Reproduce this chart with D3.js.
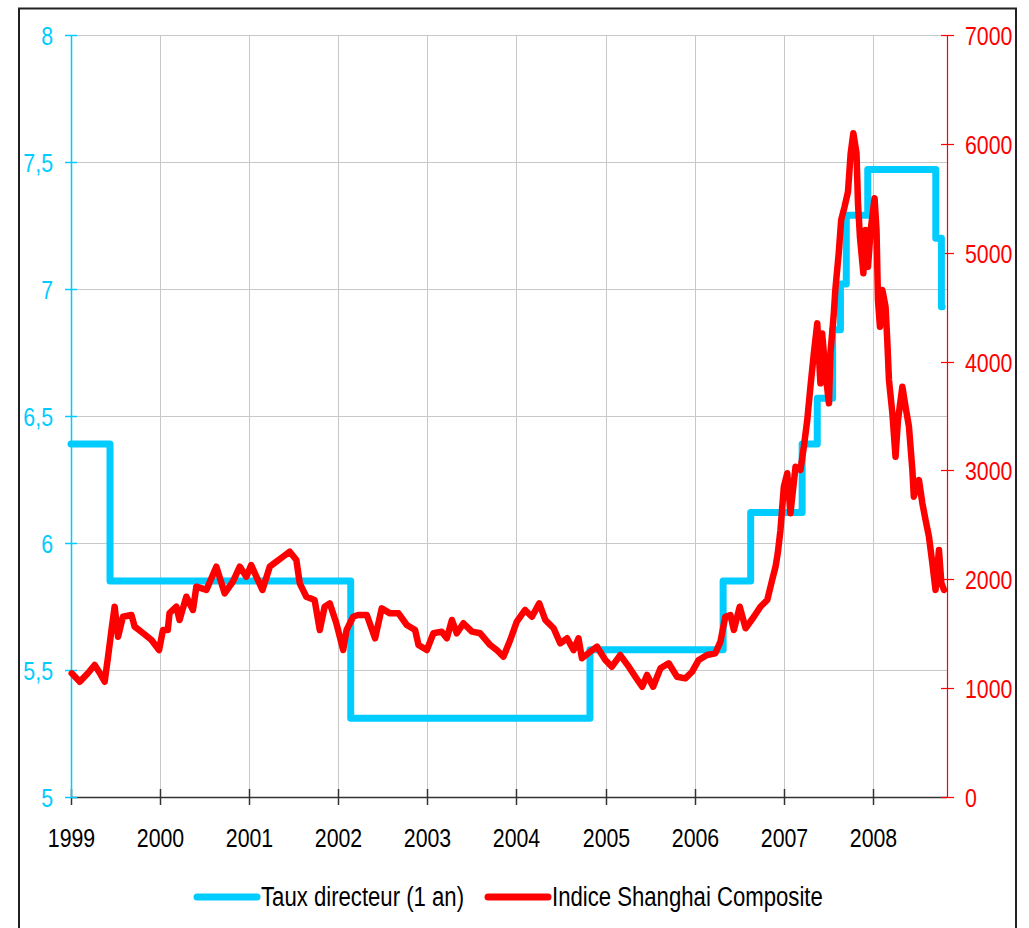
<!DOCTYPE html>
<html>
<head>
<meta charset="utf-8">
<script src="https://cdn.jsdelivr.net/npm/d3@7"></script>
<style>
  body { margin: 0; background: #fff; }
  text { font-family: "Liberation Sans", Arial, sans-serif; }
</style>
</head>
<body>
<div class="chart"></div>
<script>
// Taux directeur (1 an) - dates of change and level
var rateDates = ['1999-01-01', '1999-06-10', '2002-02-21', '2004-10-29', '2006-04-28', '2006-08-19',
	'2007-03-18', '2007-05-19', '2007-07-21', '2007-08-22', '2007-09-15', '2007-12-12',
	'2008-09-16', '2008-10-09', '2008-10-12'];
var rateValues = [6.39, 5.85, 5.31, 5.58, 5.85, 6.12,
	6.39, 6.57, 6.84, 7.02, 7.29, 7.47,
	7.20, 6.93, 6.93];

// Indice Shanghai Composite
var sseDates = ['1999-01-04', '1999-02-06', '1999-03-12', '1999-04-08', '1999-04-29', '1999-05-19', '1999-06-02', '1999-06-16',
	'1999-06-29', '1999-07-13', '1999-08-02', '1999-09-06', '1999-09-19', '1999-10-24', '1999-11-27', '1999-12-28',
	'2000-01-13', '2000-02-02', '2000-02-09', '2000-03-08', '2000-03-21', '2000-04-18', '2000-05-15', '2000-05-29',
	'2000-07-09', '2000-08-19', '2000-09-22', '2000-10-26', '2000-11-23', '2000-12-20', '2001-01-09', '2001-01-30',
	'2001-02-24', '2001-03-26', '2001-04-22', '2001-05-19', '2001-06-16', '2001-07-13', '2001-07-27', '2001-08-23',
	'2001-09-26', '2001-10-17', '2001-11-06', '2001-11-27', '2001-12-24', '2002-01-21', '2002-02-04', '2002-03-03',
	'2002-03-23', '2002-04-28', '2002-06-01', '2002-06-28', '2002-08-01', '2002-09-05', '2002-10-09', '2002-11-12',
	'2002-11-26', '2002-12-30', '2003-01-26', '2003-03-01', '2003-03-22', '2003-04-12', '2003-05-02', '2003-05-29',
	'2003-07-03', '2003-08-06', '2003-09-16', '2003-10-13', '2003-11-09', '2003-12-07', '2004-01-03', '2004-02-06',
	'2004-03-05', '2004-04-04', '2004-04-29', '2004-06-02', '2004-06-29', '2004-07-27', '2004-08-23', '2004-09-12',
	'2004-09-26', '2004-10-30', '2004-11-27', '2004-12-31', '2005-01-27', '2005-03-02', '2005-04-06', '2005-05-03',
	'2005-05-31', '2005-06-20', '2005-07-15', '2005-08-14', '2005-09-17', '2005-10-21', '2005-11-24', '2005-12-22',
	'2006-01-18', '2006-02-21', '2006-03-27', '2006-04-17', '2006-05-07', '2006-05-28', '2006-06-11', '2006-07-05',
	'2006-07-29', '2006-09-01', '2006-09-28', '2006-10-26', '2006-11-15', '2006-11-29', '2006-12-08', '2006-12-19',
	'2007-01-02', '2007-01-16', '2007-01-29', '2007-02-19', '2007-03-11', '2007-03-25', '2007-04-08', '2007-04-21',
	'2007-05-05', '2007-05-19', '2007-06-01', '2007-06-08', '2007-06-22', '2007-07-06', '2007-07-12', '2007-07-26',
	'2007-08-01', '2007-08-15', '2007-08-25', '2007-09-08', '2007-09-22', '2007-10-03', '2007-10-14', '2007-10-27',
	'2007-11-02', '2007-11-10', '2007-11-24', '2007-12-03', '2007-12-13', '2007-12-24', '2008-01-09', '2008-01-17',
	'2008-01-23', '2008-01-31', '2008-02-10', '2008-02-23', '2008-03-01', '2008-03-08', '2008-03-22', '2008-04-04',
	'2008-04-14', '2008-05-02', '2008-05-15', '2008-05-29', '2008-06-12', '2008-06-18', '2008-07-09', '2008-07-23',
	'2008-08-05', '2008-08-19', '2008-09-02', '2008-09-15', '2008-09-29', '2008-10-09', '2008-10-20'];
var sseValues = [1136, 1059, 1139, 1213, 1139, 1059, 1289, 1534,
	1748, 1473, 1656, 1672, 1565, 1504, 1442, 1350,
	1534, 1534, 1690, 1748, 1626, 1840, 1718, 1932,
	1902, 2116, 1871, 1978, 2116, 2024, 2131, 2024,
	1902, 2116, 2162, 2207, 2253, 2177, 1963, 1840,
	1810, 1534, 1748, 1779, 1596, 1350, 1534, 1656,
	1672, 1672, 1458, 1733, 1687, 1687, 1580, 1534,
	1396, 1350, 1504, 1519, 1458, 1626, 1504, 1596,
	1519, 1504, 1396, 1350, 1289, 1442, 1611, 1718,
	1656, 1779, 1626, 1550, 1412, 1458, 1350, 1458,
	1274, 1335, 1381, 1259, 1197, 1304, 1197, 1105,
	1013, 1121, 1013, 1182, 1228, 1105, 1090, 1151,
	1259, 1304, 1320, 1427, 1656, 1672, 1534, 1748,
	1550, 1656, 1748, 1810, 1993, 2116, 2239, 2450,
	2850, 2974, 2606, 3034, 3004, 3218, 3463, 3769,
	4076, 4351, 3800, 4259, 3892, 3617, 4076, 4443,
	4657, 4994, 5300, 5422, 5560, 5913, 6097, 5913,
	5454, 5147, 4811, 5208, 4871, 5208, 5500, 5208,
	4566, 4320, 4657, 4504, 4198, 3831, 3525, 3126,
	3463, 3769, 3585, 3402, 3004, 2759, 2912, 2698,
	2545, 2391, 2147, 1902, 2269, 1963, 1902];

var yearTicks = ['1999', '2000', '2001', '2002', '2003', '2004', '2005', '2006', '2007', '2008'];
var leftTicks = [5, 5.5, 6, 6.5, 7, 7.5, 8];
var rightTicks = [0, 1000, 2000, 3000, 4000, 5000, 6000, 7000];
var seriesNames = ['Taux directeur (1 an)', 'Indice Shanghai Composite'];

var W = 1029, H = 928,
	pLeft = 71, pRight = 947, pTop = 35, pBottom = 797;

var cyan = '#00ccff', red = '#ff0000';

var parse = d3.timeParse('%Y-%m-%d');

var rate = rateDates.map(function(d, i) { return { date: parse(d), v: rateValues[i] }; });
var sse = sseDates.map(function(d, i) { return { date: parse(d), v: sseValues[i] }; });

var x = d3.scaleTime()
	.domain([parse('1999-01-01'), parse('2008-11-01')])
	.range([pLeft, pRight]);
var yL = d3.scaleLinear().domain([5, 8]).range([pBottom, pTop]);
var yR = d3.scaleLinear().domain([0, 7000]).range([pBottom, pTop]);

var svg = d3.select('.chart').append('svg')
	.attr('width', W)
	.attr('height', H)
	.style('display', 'block')
	.style('background', '#fff');

// outer frame
svg.append('rect')
	.attr('x', 19).attr('y', 8.5)
	.attr('width', 997).attr('height', 940)
	.attr('fill', 'none')
	.attr('stroke', '#222')
	.attr('stroke-width', 2);

// grid
svg.append('g')
	.selectAll('line')
	.data(leftTicks.slice(1))
	.enter().append('line')
	.attr('x1', pLeft).attr('x2', pRight)
	.attr('y1', function(d) { return Math.round(yL(d)) + 0.5; })
	.attr('y2', function(d) { return Math.round(yL(d)) + 0.5; })
	.attr('stroke', '#c8c8c8');

svg.append('g')
	.selectAll('line')
	.data(yearTicks.slice(1))
	.enter().append('line')
	.attr('x1', function(d) { return Math.round(x(parse(d + '-01-01'))) + 0.5; })
	.attr('x2', function(d) { return Math.round(x(parse(d + '-01-01'))) + 0.5; })
	.attr('y1', pTop).attr('y2', pBottom)
	.attr('stroke', '#c8c8c8');

// x axis
var xAxis = svg.append('g')
	.attr('transform', 'translate(0,' + pBottom + ')');
xAxis.append('line')
	.attr('x1', pLeft).attr('x2', pRight)
	.attr('y1', 0.5).attr('y2', 0.5)
	.attr('stroke', '#333').attr('stroke-width', 1.5);
var xt = xAxis.selectAll('g')
	.data(yearTicks)
	.enter().append('g')
	.attr('transform', function(d) { return 'translate(' + (Math.round(x(parse(d + '-01-01'))) + 0.5) + ',0)'; });
xt.append('line').attr('y1', -8).attr('y2', 8).attr('stroke', '#333').attr('stroke-width', 1.5);
xt.append('text')
	.attr('y', 50)
	.attr('text-anchor', 'middle')
	.attr('font-size', 26)
	.attr('fill', '#000')
	.text(function(d) { return d; });

// left axis
var fmt = function(d) { return String(d).replace('.', ','); };
var lAxis = svg.append('g');
lAxis.append('line')
	.attr('x1', pLeft + 0.5).attr('x2', pLeft + 0.5)
	.attr('y1', pTop).attr('y2', pBottom)
	.attr('stroke', cyan).attr('stroke-width', 1.5);
var lt = lAxis.selectAll('g')
	.data(leftTicks)
	.enter().append('g')
	.attr('transform', function(d) { return 'translate(0,' + (Math.round(yL(d)) + 0.5) + ')'; });
lt.append('line').attr('x1', pLeft - 6).attr('x2', pLeft + 6).attr('stroke', cyan).attr('stroke-width', 1.5);
lt.append('text')
	.attr('x', 53).attr('dy', '0.35em')
	.attr('text-anchor', 'end')
	.attr('font-size', 26)
	.attr('fill', cyan)
	.text(fmt);

// right axis
var rAxis = svg.append('g');
rAxis.append('line')
	.attr('x1', pRight + 0.5).attr('x2', pRight + 0.5)
	.attr('y1', pTop).attr('y2', pBottom)
	.attr('stroke', red).attr('stroke-width', 1.2);
var rt = rAxis.selectAll('g')
	.data(rightTicks)
	.enter().append('g')
	.attr('transform', function(d) { return 'translate(0,' + (Math.round(yR(d)) + 0.5) + ')'; });
rt.append('line').attr('x1', pRight - 6).attr('x2', pRight + 7).attr('stroke', red).attr('stroke-width', 1.2);
rt.append('text')
	.attr('x', 965).attr('dy', '0.35em')
	.attr('text-anchor', 'start')
	.attr('font-size', 26)
	.attr('fill', red)
	.text(function(d) { return d; });

// series
var rateLine = d3.line()
	.x(function(d) { return x(d.date); })
	.y(function(d) { return yL(d.v); })
	.curve(d3.curveStepAfter);
var sseLine = d3.line()
	.x(function(d) { return x(d.date); })
	.y(function(d) { return yR(d.v); });

svg.append('path')
	.datum(rate)
	.attr('d', rateLine)
	.attr('fill', 'none')
	.attr('stroke', cyan)
	.attr('stroke-width', 7)
	.attr('stroke-linejoin', 'round')
	.attr('stroke-linecap', 'round');

svg.append('path')
	.datum(sse)
	.attr('d', sseLine)
	.attr('fill', 'none')
	.attr('stroke', red)
	.attr('stroke-width', 6.5)
	.attr('stroke-linejoin', 'round')
	.attr('stroke-linecap', 'round');

// legend
var legend = svg.append('g').attr('transform', 'translate(0,897)');
var lx = [197, 488];
legend.selectAll('line')
	.data(seriesNames)
	.enter().append('line')
	.attr('x1', function(d, i) { return lx[i]; })
	.attr('x2', function(d, i) { return lx[i] + 60; })
	.attr('stroke', function(d, i) { return i ? red : cyan; })
	.attr('stroke-width', 7)
	.attr('stroke-linecap', 'round');
legend.selectAll('text')
	.data(seriesNames)
	.enter().append('text')
	.attr('x', function(d, i) { return lx[i] + 64; })
	.attr('dy', '0.35em')
	.attr('font-size', 27)
	.attr('fill', '#000')
	.text(function(d) { return d; });

// narrow the glyphs to look like a condensed face
svg.selectAll('text').each(function() {
	var len = this.getComputedTextLength();
	d3.select(this)
		.attr('textLength', len * 0.82)
		.attr('lengthAdjust', 'spacingAndGlyphs');
});
</script>
</body>
</html>
